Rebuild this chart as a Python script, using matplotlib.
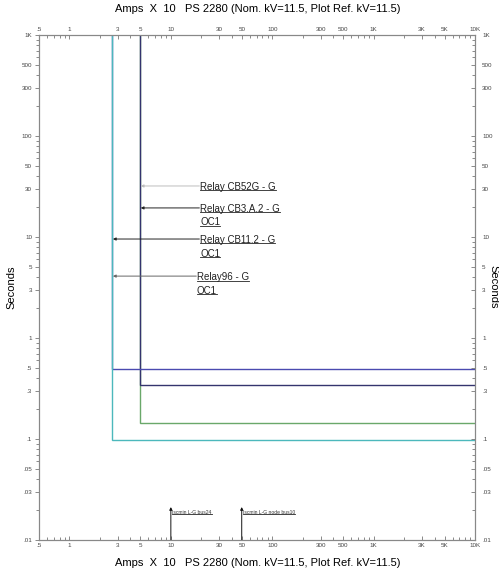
import numpy as np
import matplotlib.pyplot as plt
from matplotlib.lines import Line2D

plt.rcParams['font.family'] = ['Liberation Sans', 'DejaVu Sans']

# relay curves: pickup (Amps x 10) and definite time (s)
relay_names = ["Relay CB52G - G", "Relay CB3.A.2 - G\nOC1",
               "Relay CB11.2 - G\nOC1", "Relay96 - G\nOC1"]
pickup = [4.95, 4.95, 2.63, 2.63]
delay = [0.343, 0.144, 0.493, 0.098]
colors = ['#34346e', '#6aa86a', '#4a4ab0', '#4cb8bc']
draw_order = [1, 0, 2, 3]

# fault current markers
fault_names = ["Iscmin L-G bus24", "Iscmin L-G node bus10"]
fault_amps = [10, 50]

x_ticks = [0.5, 1, 3, 5, 10, 30, 50, 100, 300, 500, 1000, 3000, 5000, 10000]
x_labels = [".5", "1", "3", "5", "10", "30", "50", "100", "300", "500",
            "1K", "3K", "5K", "10K"]
y_ticks = [0.01, 0.03, 0.05, 0.1, 0.3, 0.5, 1, 3, 5, 10, 30, 50, 100, 300,
           500, 1000]
y_labels = [".01", ".03", ".05", ".1", ".3", ".5", "1", "3", "5", "10", "30",
            "50", "100", "300", "500", "1K"]

xmin, xmax = 0.5, 10000
ymin, ymax = 0.01, 1000

fig = plt.figure(figsize=(4.99, 5.71), dpi=100)
ax = fig.add_axes([0.078, 0.0543, 0.874, 0.8844])
ax.set_xscale('log')
ax.set_yscale('log')
ax.set_xlim(xmin, xmax)
ax.set_ylim(ymin, ymax)

for i in draw_order:
    ax.plot([pickup[i], pickup[i], xmax], [ymax * 2, delay[i], delay[i]],
            color=colors[i], lw=1.0, solid_joinstyle='miter')


def minors(lo, hi, major):
    out = []
    for d in range(-3, 5):
        for m in range(1, 10):
            v = m * 10.0 ** d
            if lo <= v <= hi and not np.isclose(major, v).any():
                out.append(v)
    return out


ax.set_xticks(x_ticks)
ax.set_xticklabels(x_labels)
ax.set_xticks(minors(xmin, xmax, np.array(x_ticks)), minor=True)
ax.set_yticks(y_ticks)
ax.set_yticklabels(y_labels)
ax.set_yticks(minors(ymin, ymax, np.array(y_ticks)), minor=True)

ax.tick_params(axis='x', which='both', direction='in', top=True, bottom=True,
               labeltop=True, labelbottom=True, labelsize=4.5,
               labelcolor='#444444', color='#777777', length=3, width=0.6,
               pad=2)
ax.tick_params(axis='x', which='minor', length=2)
ax.tick_params(axis='y', which='both', left=True, right=False,
               direction='out', labelsize=4.5, labelcolor='#444444',
               color='#777777', length=3, width=0.6, pad=2)
ax.tick_params(axis='y', which='minor', length=2)

ax2 = ax.twinx()
ax2.set_yscale('log')
ax2.set_ylim(ymin, ymax)
ax2.set_yticks(y_ticks)
ax2.set_yticklabels(y_labels)
ax2.set_yticks(minors(ymin, ymax, np.array(y_ticks)), minor=True)
ax2.tick_params(axis='y', which='both', direction='in', labelsize=4.5,
                labelcolor='#444444', color='#777777', length=3, width=0.6,
                pad=5)
ax2.tick_params(axis='y', which='minor', length=2)

for a in (ax, ax2):
    for s in a.spines.values():
        s.set_color('#888888')
        s.set_linewidth(0.8)

xlab = "Amps  X  10   PS 2280 (Nom. kV=11.5, Plot Ref. kV=11.5)"
fig.text(0.517, 0.984, xlab, ha='center', va='center', fontsize=8)
fig.text(0.517, 0.014, xlab, ha='center', va='center', fontsize=8)
fig.text(0.024, 0.497, "Seconds", rotation=90, ha='center', va='center',
         fontsize=8)
fig.text(0.988, 0.497, "Seconds", rotation=270, ha='center', va='center',
         fontsize=8)

# relay annotations: arrow from label to curve, each text line underlined
label_xy = [(19.4, 32), (19.4, 19.4), (19.4, 9.55), (18.1, 4.1)]
arrow_colors = ['#bdbdbd', '#222222', '#222222', '#666666']
texts = []
for i, name in enumerate(relay_names):
    tx, ty = label_xy[i]
    ax.annotate("", xy=(pickup[i] * 1.02, ty), xytext=(tx * 0.985, ty),
                arrowprops=dict(arrowstyle='-|>', color=arrow_colors[i],
                                lw=0.7, mutation_scale=4,
                                shrinkA=0, shrinkB=0))
    for k, line in enumerate(name.split('\n')):
        t = ax.annotate(line, xy=(tx, ty), xytext=(0, -2.6 - 10 * k),
                        textcoords='offset points', ha='left', va='baseline',
                        fontsize=7, color='#222222')
        texts.append(t)

# fault current arrows
ftexts = []
for i, name in enumerate(fault_names):
    ax.annotate("", xy=(fault_amps[i], 0.0212), xytext=(fault_amps[i], ymin),
                arrowprops=dict(arrowstyle='-|>', color='#111111', lw=0.7,
                                mutation_scale=4, shrinkA=0, shrinkB=0))
    ft = ax.annotate(name, xy=(fault_amps[i] * 1.03, 0.0188),
                     xytext=(0, -1.2), textcoords='offset points',
                     fontsize=3.6, ha='left', va='baseline', color='#333333')
    ftexts.append(ft)

fig.canvas.draw()
r = fig.canvas.get_renderer()

for t in texts + ftexts:
    bb = t.get_window_extent(r)
    yb = bb.y0 + bb.height * 0.12
    fig.add_artist(Line2D([bb.x0, bb.x1], [yb, yb], transform=None,
                          color='#222222', lw=0.6))

fig.savefig('out.png', dpi=100)
